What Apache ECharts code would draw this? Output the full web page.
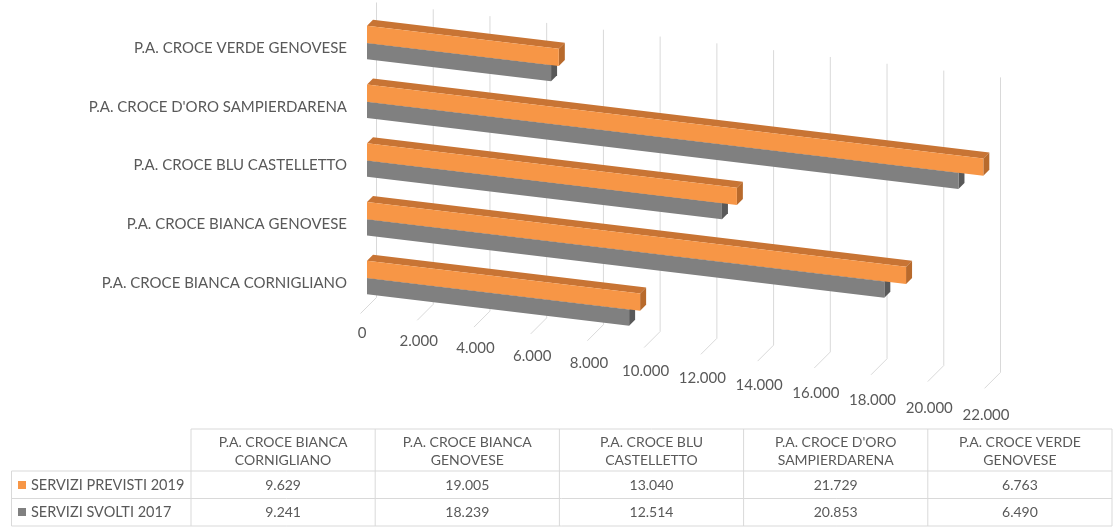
<!DOCTYPE html>
<html>
<head>
<meta charset="utf-8">
<script src="https://cdn.jsdelivr.net/npm/echarts@6/dist/echarts.min.js"></script>
<style>
html, body { margin: 0; padding: 0; background: #fff; }
#chart { width: 1113px; height: 528px; }
</style>
</head>
<body>
<div id="chart"></div>
<script>
var categories = [
    'P.A. CROCE BIANCA CORNIGLIANO',
    'P.A. CROCE BIANCA GENOVESE',
    'P.A. CROCE BLU CASTELLETTO',
    "P.A. CROCE D'ORO SAMPIERDARENA",
    'P.A. CROCE VERDE GENOVESE'
];
var tableHeaders = [
    ['P.A. CROCE BIANCA', 'CORNIGLIANO'],
    ['P.A. CROCE BIANCA', 'GENOVESE'],
    ['P.A. CROCE BLU', 'CASTELLETTO'],
    ["P.A. CROCE D'ORO", 'SAMPIERDARENA'],
    ['P.A. CROCE VERDE', 'GENOVESE']
];
var seriesNames = ['SERVIZI PREVISTI 2019', 'SERVIZI SVOLTI 2017'];
var previsti2019 = [9629, 19005, 13040, 21729, 6763];
var svolti2017 = [9241, 18239, 12514, 20853, 6490];
var xTicks = [0, 2000, 4000, 6000, 8000, 10000, 12000, 14000, 16000, 18000, 20000, 22000];

var FONT = 'Lato';
var TXT = '#595959';
var SKEW = 0.12;      // fake perspective: y drops as x grows
var BAR_DEPTH = 6;
var WALL_DEPTH = 9.5;
var FLOOR_FRONT = -6.5;

// thousands with a dot, italian style
function fmt(v) {
    return String(v).replace(/\B(?=(\d{3})+(?!\d))/g, '.');
}

function proj(px, py, depth, x0) {
    return [px + depth, py + SKEW * (px - x0) - depth];
}

var myChart = echarts.init(document.getElementById('chart'));

function gridRenderItem(params, api) {
    var cs = params.coordSys;
    var v = api.value(0);
    var px = api.coord([v, 0])[0];
    var x0 = cs.x;
    var top = proj(px, cs.y - 1, WALL_DEPTH, x0);
    var bot = proj(px, cs.y + cs.height, WALL_DEPTH, x0);
    var front = proj(px, cs.y + cs.height, FLOOR_FRONT, x0);
    return {
        type: 'group',
        children: [
            {type: 'line', shape: {x1: top[0], y1: top[1], x2: bot[0], y2: bot[1]},
                style: {stroke: '#d9d9d9', lineWidth: 1}},
            {type: 'line', shape: {x1: bot[0], y1: bot[1], x2: front[0], y2: front[1]},
                style: {stroke: '#d9d9d9', lineWidth: 1}},
            {type: 'text', x: front[0] + 1.5, y: front[1] + 20 + 0.011 * (px - x0),
                style: {text: fmt(v), fill: TXT, font: '15px ' + FONT, align: 'center', verticalAlign: 'middle'}}
        ]
    };
}

function makeBarRenderItem(front, topC, capC, upper) {
    return function (params, api) {
        var cs = params.coordSys;
        var x0 = cs.x;
        var s = api.coord([0, api.value(1)]);
        var e = api.coord([api.value(0), api.value(1)]);
        var h = api.size([0, 1])[1] * 0.285;
        var y1 = upper ? s[1] - h : s[1] + 0.5;
        var y2 = upper ? s[1] + 0.5 : s[1] + h;
        var xa = s[0], xb = e[0];
        function P(x, y, d) { return proj(x, y, d, x0); }
        return {
            type: 'group',
            children: [
                {type: 'polygon', shape: {points: [P(xa, y1, 0), P(xb, y1, 0), P(xb, y1, BAR_DEPTH), P(xa, y1, BAR_DEPTH)]},
                    style: {fill: topC}},
                {type: 'polygon', shape: {points: [P(xb, y1, 0), P(xb, y1, BAR_DEPTH), P(xb, y2, BAR_DEPTH), P(xb, y2, 0)]},
                    style: {fill: capC}},
                {type: 'polygon', shape: {points: [P(xa, y1, 0), P(xb, y1, 0), P(xb, y2, 0), P(xa, y2, 0)]},
                    style: {fill: front}}
            ]
        };
    };
}

// table under the chart, built from the same arrays
var tLeft = 11.5, tFirst = 191, colW = 184.2;
var rowY = [429, 471, 498.5, 526];
var tableEls = [];
function hline(y, xa, xb) {
    tableEls.push({type: 'line', shape: {x1: xa, y1: y, x2: xb, y2: y}, style: {stroke: '#d9d9d9', lineWidth: 1}});
}
function vline(x, ya, yb) {
    tableEls.push({type: 'line', shape: {x1: x, y1: ya, x2: x, y2: yb}, style: {stroke: '#d9d9d9', lineWidth: 1}});
}
var tRight = tFirst + colW * categories.length;
hline(rowY[0], tFirst, tRight);
hline(rowY[1], tLeft, tRight);
hline(rowY[2], tLeft, tRight);
hline(rowY[3], tLeft, tRight);
vline(tLeft, rowY[1], rowY[3]);
for (var c = 0; c <= categories.length; c++) {
    vline(tFirst + c * colW, rowY[0], rowY[3]);
}
var tFont = '14px ' + FONT;
for (var c = 0; c < categories.length; c++) {
    var cx = tFirst + c * colW + colW / 2;
    tableEls.push({type: 'text', x: cx, y: 442, style: {text: tableHeaders[c][0], fill: TXT, font: tFont, align: 'center', verticalAlign: 'middle'}});
    tableEls.push({type: 'text', x: cx, y: 460, style: {text: tableHeaders[c][1], fill: TXT, font: tFont, align: 'center', verticalAlign: 'middle'}});
    tableEls.push({type: 'text', x: cx, y: 485, style: {text: fmt(previsti2019[c]), fill: TXT, font: tFont, align: 'center', verticalAlign: 'middle'}});
    tableEls.push({type: 'text', x: cx, y: 512, style: {text: fmt(svolti2017[c]), fill: TXT, font: tFont, align: 'center', verticalAlign: 'middle'}});
}
var keyColors = ['#f79646', '#808080'];
var keyY = [485, 512];
for (var r = 0; r < 2; r++) {
    tableEls.push({type: 'rect', shape: {x: 18, y: keyY[r] - 4, width: 8, height: 8}, style: {fill: keyColors[r]}});
    tableEls.push({type: 'text', x: 31, y: keyY[r], style: {text: seriesNames[r], fill: TXT, font: '14.5px ' + FONT, align: 'left', verticalAlign: 'middle'}});
}

myChart.setOption({
    animation: false,
    grid: {left: 367, top: 13, width: 624, height: 294, containLabel: false},
    xAxis: {
        type: 'value', min: 0, max: 22000, interval: 2000, show: false
    },
    yAxis: {
        type: 'category',
        data: categories,
        axisLine: {show: false},
        axisTick: {show: false},
        splitLine: {show: false},
        axisLabel: {color: TXT, fontSize: 15, fontFamily: FONT, margin: 20, verticalAlign: 'top', lineHeight: 11}
    },
    graphic: tableEls,
    series: [
        {
            type: 'custom',
            name: 'grid',
            silent: true,
            clip: false,
            z: 1,
            renderItem: gridRenderItem,
            data: xTicks.map(function (v) { return [v, 0]; }),
            encode: {x: 0, y: 1}
        },
        {
            type: 'custom',
            name: seriesNames[1],
            silent: true,
            clip: false,
            z: 2,
            renderItem: makeBarRenderItem('#808080', '#6e6e6e', '#595959', false),
            data: svolti2017.map(function (v, i) { return [v, i]; }),
            encode: {x: 0, y: 1}
        },
        {
            type: 'custom',
            name: seriesNames[0],
            silent: true,
            clip: false,
            z: 3,
            renderItem: makeBarRenderItem('#f79646', '#c87434', '#b86a2c', true),
            data: previsti2019.map(function (v, i) { return [v, i]; }),
            encode: {x: 0, y: 1}
        }
    ]
});
</script>
</body>
</html>
